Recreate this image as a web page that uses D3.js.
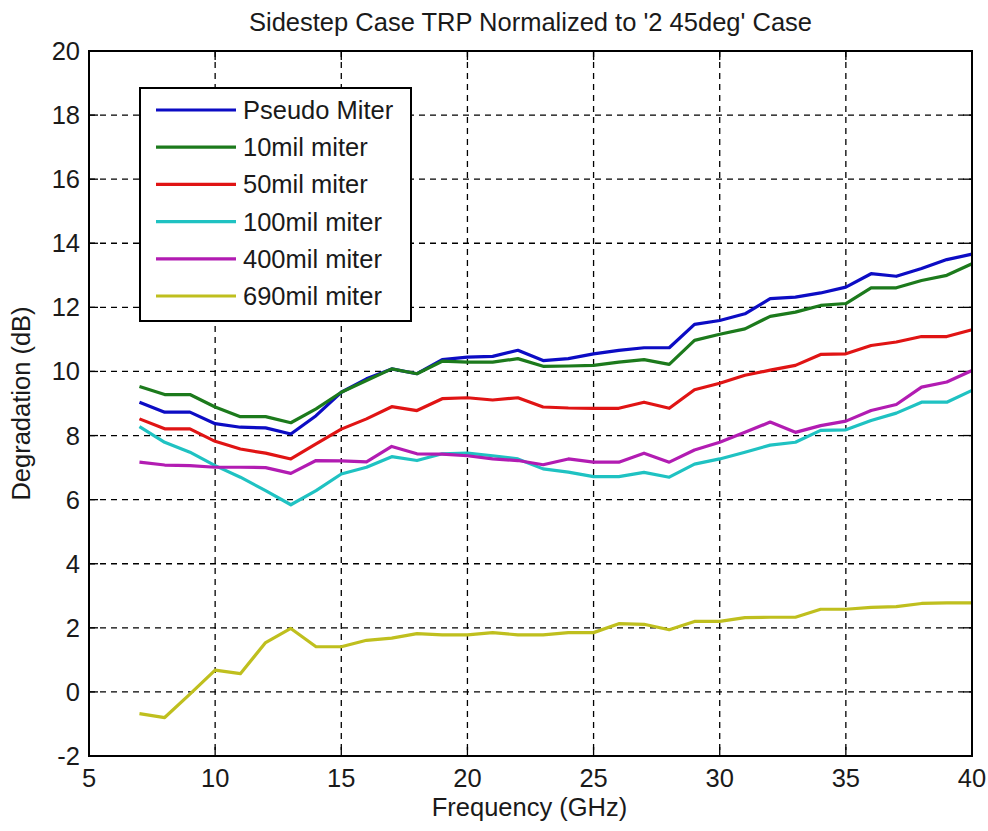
<!DOCTYPE html>
<html>
<head>
<meta charset="utf-8">
<script src="https://cdn.jsdelivr.net/npm/d3@7"></script>
<style>
  html, body { margin: 0; padding: 0; background: #fff; }
  svg text { font-family: "Liberation Sans", Arial, sans-serif; fill: #1a1a1a; }
</style>
</head>
<body>
<div id="chart"></div>
<script>
// frequency points (GHz)
const freqs = [7,8,9,10,11,12,13,14,15,16,17,18,19,20,21,22,23,24,25,26,27,28,29,30,31,32,33,34,35,36,37,38,39,40];

const pseudoMiter = [9.04,8.73,8.73,8.37,8.26,8.24,8.05,8.62,9.35,9.77,10.08,9.93,10.37,10.45,10.47,10.66,10.34,10.4,10.55,10.66,10.74,10.74,11.47,11.59,11.8,12.27,12.32,12.45,12.63,13.05,12.97,13.21,13.49,13.66];
const mil10 = [9.53,9.28,9.28,8.89,8.59,8.59,8.4,8.83,9.35,9.72,10.08,9.93,10.32,10.29,10.29,10.4,10.16,10.17,10.19,10.29,10.37,10.22,10.97,11.16,11.33,11.72,11.85,12.06,12.12,12.61,12.61,12.84,13.0,13.36];
const mil50 = [8.52,8.21,8.21,7.82,7.58,7.45,7.27,7.74,8.2,8.52,8.9,8.78,9.15,9.18,9.11,9.18,8.89,8.86,8.85,8.85,9.04,8.85,9.43,9.63,9.88,10.04,10.19,10.53,10.55,10.81,10.92,11.09,11.09,11.3];
const mil100 = [8.28,7.79,7.48,7.06,6.7,6.28,5.84,6.28,6.8,7.01,7.34,7.22,7.43,7.45,7.37,7.27,6.96,6.86,6.72,6.72,6.85,6.7,7.11,7.27,7.48,7.7,7.79,8.16,8.18,8.47,8.7,9.04,9.04,9.41];
const mil400 = [7.17,7.08,7.06,7.01,7.01,7.0,6.82,7.22,7.21,7.18,7.66,7.43,7.42,7.37,7.27,7.22,7.09,7.27,7.17,7.17,7.45,7.17,7.55,7.79,8.1,8.42,8.1,8.31,8.45,8.78,8.97,9.51,9.67,10.03];
const mil690 = [-0.68,-0.8,-0.07,0.68,0.57,1.54,1.98,1.41,1.41,1.61,1.68,1.82,1.78,1.78,1.85,1.78,1.78,1.85,1.85,2.13,2.11,1.94,2.2,2.2,2.32,2.33,2.33,2.58,2.58,2.64,2.66,2.76,2.78,2.78];

const seriesNames = ["Pseudo Miter","10mil miter","50mil miter","100mil miter","400mil miter","690mil miter"];
const seriesColors = ["#0c0cc4","#1c7a1c","#e01414","#1fc2c2","#b21cb2","#bfbf1e"];
const seriesVals = [pseudoMiter, mil10, mil50, mil100, mil400, mil690];

const xTicks = [5,10,15,20,25,30,35,40];
const yTicks = [-2,0,2,4,6,8,10,12,14,16,18,20];

const titleText = "Sidestep Case TRP Normalized to '2 45deg' Case";
const xLabel = "Frequency (GHz)";
const yLabel = "Degradation (dB)";

const W = 988, H = 831;
const m = { top: 51, right: 16, bottom: 75, left: 89 };
const fs = 25.5;

const svg = d3.select("#chart").append("svg").attr("width", W).attr("height", H);

const x = d3.scaleLinear().domain([5, 40]).range([m.left, W - m.right]);
const y = d3.scaleLinear().domain([-2, 20]).range([H - m.bottom, m.top]);

// grid
svg.append("g").selectAll("line").data(xTicks.slice(1, -1)).join("line")
  .attr("x1", x).attr("x2", x).attr("y1", m.top).attr("y2", H - m.bottom)
  .attr("stroke", "#000").attr("stroke-width", 1.3).attr("stroke-dasharray", "6,5");
svg.append("g").selectAll("line").data(yTicks.slice(1, -1)).join("line")
  .attr("y1", y).attr("y2", y).attr("x1", m.left).attr("x2", W - m.right)
  .attr("stroke", "#000").attr("stroke-width", 1.3).attr("stroke-dasharray", "6,5");

// tick marks inside on all sides
const tl = 9;
const tk = svg.append("g").attr("stroke", "#000").attr("stroke-width", 1.3);
xTicks.forEach((t) => {
  tk.append("line").attr("x1", x(t)).attr("x2", x(t)).attr("y1", H - m.bottom).attr("y2", H - m.bottom - tl);
  tk.append("line").attr("x1", x(t)).attr("x2", x(t)).attr("y1", m.top).attr("y2", m.top + tl);
});
yTicks.forEach((t) => {
  tk.append("line").attr("y1", y(t)).attr("y2", y(t)).attr("x1", m.left).attr("x2", m.left + tl);
  tk.append("line").attr("y1", y(t)).attr("y2", y(t)).attr("x1", W - m.right).attr("x2", W - m.right - tl);
});

// tick labels
svg.append("g").selectAll("text").data(xTicks).join("text")
  .attr("x", x).attr("y", H - m.bottom + 31).attr("text-anchor", "middle")
  .attr("font-size", fs).text((d) => d);
svg.append("g").selectAll("text").data(yTicks).join("text")
  .attr("x", m.left - 9).attr("y", (d) => y(d) + 9).attr("text-anchor", "end")
  .attr("font-size", fs).text((d) => d);

// lines
const line = d3.line().x((d, i) => x(freqs[i])).y((d) => y(d));
seriesVals.forEach((vals, i) => {
  svg.append("path").datum(vals).attr("d", line)
    .attr("fill", "none").attr("stroke", seriesColors[i]).attr("stroke-width", 3.2)
    .attr("stroke-linejoin", "round");
});

// frame
svg.append("rect").attr("x", m.left).attr("y", m.top)
  .attr("width", W - m.left - m.right).attr("height", H - m.top - m.bottom)
  .attr("fill", "none").attr("stroke", "#000").attr("stroke-width", 2);

// legend
const lg = svg.append("g");
lg.append("rect").attr("x", 140).attr("y", 88).attr("width", 271).attr("height", 233)
  .attr("fill", "#fff").attr("stroke", "#000").attr("stroke-width", 2);
seriesNames.forEach((name, i) => {
  const ry = 110 + i * 37.2;
  lg.append("line").attr("x1", 156).attr("x2", 236).attr("y1", ry).attr("y2", ry)
    .attr("stroke", seriesColors[i]).attr("stroke-width", 3.2);
  lg.append("text").attr("x", 243).attr("y", ry + 9).attr("font-size", fs).text(name);
});

// title & axis labels
svg.append("text").attr("x", (m.left + W - m.right) / 2).attr("y", 31)
  .attr("text-anchor", "middle").attr("font-size", fs).text(titleText);
svg.append("text").attr("x", (m.left + W - m.right) / 2 - 1).attr("y", 816)
  .attr("text-anchor", "middle").attr("font-size", fs).text(xLabel);
svg.append("text").attr("transform", `translate(30,${(m.top + H - m.bottom) / 2}) rotate(-90)`)
  .attr("text-anchor", "middle").attr("font-size", fs).text(yLabel);
</script>
</body>
</html>
